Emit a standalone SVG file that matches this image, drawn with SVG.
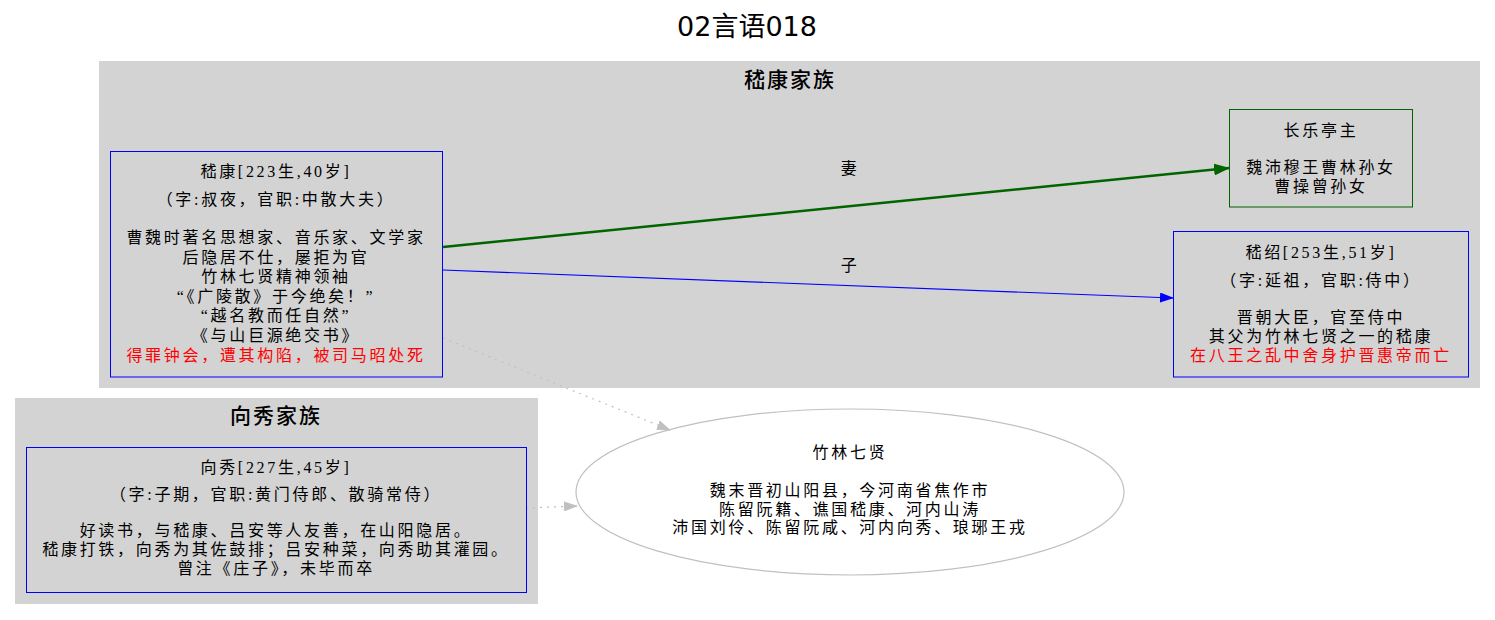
<svg xmlns="http://www.w3.org/2000/svg" width="1495" height="620" viewBox="0 0 1495 620">
<defs>
<style>
.t{font-family:"Liberation Serif","Noto Sans CJK SC",serif;font-size:16px;letter-spacing:2.7px;fill:#000;text-anchor:middle}
.r{fill:#ff0000}
.cl{font-family:"DejaVu Sans","Noto Sans CJK SC",sans-serif;font-size:21px;font-weight:500;letter-spacing:2px;text-anchor:middle;fill:#000}
.title{font-family:"DejaVu Sans","Noto Sans CJK SC",sans-serif;font-size:27px;text-anchor:middle;fill:#000}
.box{fill:none;stroke:#0000ff;stroke-width:1}
</style>
<marker id="ag" markerWidth="16" markerHeight="12" refX="15" refY="6" orient="auto" markerUnits="userSpaceOnUse"><path d="M0,0 L16,6 L0,12 Z" fill="#006400"/></marker>
<marker id="ab" markerWidth="14" markerHeight="10" refX="13" refY="5" orient="auto" markerUnits="userSpaceOnUse"><path d="M0,0 L14,5 L0,10 Z" fill="#0000ff"/></marker>
<marker id="ac" markerWidth="14" markerHeight="10" refX="13" refY="5" orient="auto" markerUnits="userSpaceOnUse"><path d="M0,0 L14,5 L0,10 Z" fill="#c0c0c0"/></marker>
</defs>
<rect width="1495" height="620" fill="#fff"/>
<text class="title" x="747" y="36">02言语018</text>

<g id="cluster_jikang">
<rect x="99" y="61" width="1381" height="327" fill="#d3d3d3"/>
<text class="cl" x="790" y="87">嵇康家族</text>
</g>
<g id="cluster_xiangxiu">
<rect x="15" y="398" width="523" height="206" fill="#d3d3d3"/>
<text class="cl" x="276" y="423">向秀家族</text>
</g>

<g id="connectors">
<line x1="443" y1="247" x2="1229" y2="168" stroke="#006400" stroke-width="2.5" marker-end="url(#ag)"/>
<text class="t" x="850" y="174">妻</text>
<line x1="443" y1="270" x2="1173" y2="298" stroke="#0000ff" stroke-width="1.2" marker-end="url(#ab)"/>
<text class="t" x="850" y="271">子</text>
<line x1="443" y1="338" x2="670" y2="430" stroke="#c0c0c0" stroke-width="1.2" stroke-dasharray="2,5" marker-end="url(#ac)"/>
<line x1="526" y1="508" x2="577" y2="506" stroke="#c0c0c0" stroke-width="1.2" stroke-dasharray="2,5" marker-end="url(#ac)"/>
</g>

<g id="node_jikang">
<rect class="box" x="110.5" y="151.5" width="332" height="225.5"/>
<text class="t" x="276" y="177">嵇康[223生,40岁]</text>
<text class="t" x="276" y="205">（字:叔夜，官职:中散大夫）</text>
<text class="t" x="276" y="243">曹魏时著名思想家、音乐家、文学家</text>
<text class="t" x="276" y="262.5">后隐居不仕，屡拒为官</text>
<text class="t" x="276" y="282">竹林七贤精神领袖</text>
<text class="t" x="276" y="301.5">“《广陵散》于今绝矣！”</text>
<text class="t" x="276" y="321">“越名教而任自然”</text>
<text class="t" x="276" y="340.5">《与山巨源绝交书》</text>
<text class="t r" x="276" y="361">得罪钟会，遭其构陷，被司马昭处死</text>
</g>

<g id="node_changle">
<rect x="1229.5" y="109.5" width="183" height="97.5" fill="none" stroke="#006400" stroke-width="1"/>
<text class="t" x="1321" y="136">长乐亭主</text>
<text class="t" x="1321" y="172.5">魏沛穆王曹林孙女</text>
<text class="t" x="1321" y="192">曹操曾孙女</text>
</g>

<g id="node_jishao">
<rect class="box" x="1173.5" y="231.5" width="295" height="145.5"/>
<text class="t" x="1321" y="258">嵇绍[253生,51岁]</text>
<text class="t" x="1321" y="286">（字:延祖，官职:侍中）</text>
<text class="t" x="1321" y="322.5">晋朝大臣，官至侍中</text>
<text class="t" x="1321" y="342">其父为竹林七贤之一的嵇康</text>
<text class="t r" x="1321" y="361">在八王之乱中舍身护晋惠帝而亡</text>
</g>

<g id="node_xiangxiu">
<rect class="box" x="26.5" y="447.5" width="500" height="145"/>
<text class="t" x="276" y="473">向秀[227生,45岁]</text>
<text class="t" x="276" y="500">（字:子期，官职:黄门侍郎、散骑常侍）</text>
<text class="t" x="276" y="536">好读书，与嵇康、吕安等人友善，在山阳隐居。</text>
<text class="t" x="276" y="555">嵇康打铁，向秀为其佐鼓排；吕安种菜，向秀助其灌园。</text>
<text class="t" x="276" y="574">曾注《庄子》，未毕而卒</text>
</g>

<g id="node_zhulin">
<ellipse cx="850" cy="492" rx="274" ry="83" fill="none" stroke="#c0c0c0" stroke-width="1.2"/>
<text class="t" x="850" y="458">竹林七贤</text>
<text class="t" x="850" y="496">魏末晋初山阳县，今河南省焦作市</text>
<text class="t" x="850" y="514.5">陈留阮籍、谯国嵇康、河内山涛</text>
<text class="t" x="850" y="533">沛国刘伶、陈留阮咸、河内向秀、琅琊王戎</text>
</g>
</svg>
